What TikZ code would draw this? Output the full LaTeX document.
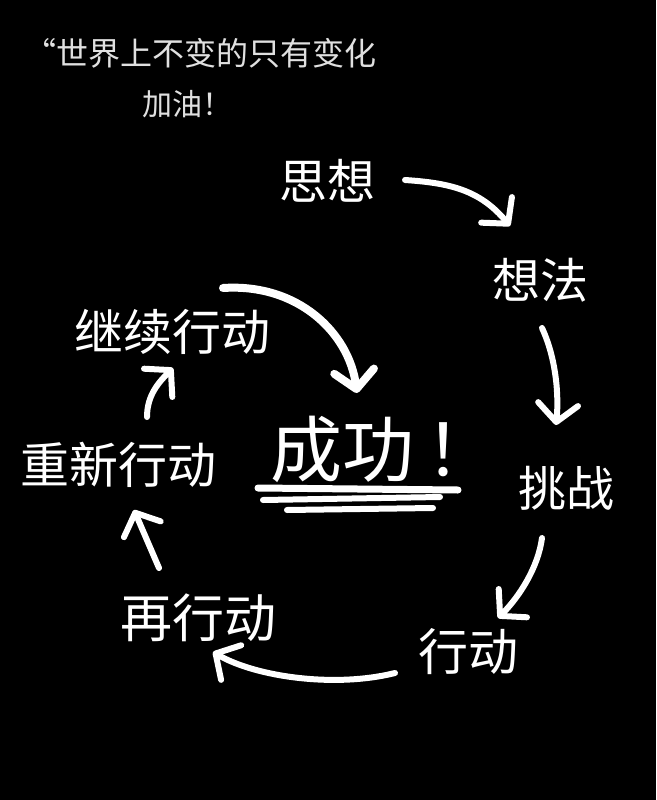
\documentclass[tikz,border=0pt]{standalone}
\usepackage{fontspec}
\newfontfamily\cjk{Noto Sans CJK SC}
\usetikzlibrary{arrows.meta}

\begin{document}
\begin{tikzpicture}[x=1pt, y=-1pt]
    % Define styles
    \tikzset{word/.style={text=white, inner sep=0pt, font=\cjk\fontsize{#1}{#1}\selectfont}}
    \tikzstyle{flow}=[draw=white, line width=6pt, line cap=round, line join=round, -{Straight Barb[length=18pt, width=40pt, round]}]
    \tikzstyle{bar}=[draw=white, line width=6pt, line cap=round]

    % Blackboard
    \fill[black] (0,0) rectangle (656,800);
    \useasboundingbox (0,0) rectangle (656,800);

    % Motto
    \node [word=32, text=white!88!black] (motto) at (200,53) {“世界上不变的只有变化};
    \node [word=30, text=white!88!black] (cheer) at (187,104) {加油！};

    % Cycle
    \node [word=48] (sixiang) at (327,181) {思想};
    \node [word=48] (xiangfa) at (540,280) {想法};
    \node [word=48] (tiaozhan) at (566,488) {挑战};
    \node [word=50] (xingdong) at (468,652) {行动};
    \node [word=52] (zaixingdong) at (198,618) {再行动};
    \node [word=49] (chongxin) at (118,465) {重新行动};
    \node [word=49] (jixu) at (172,332) {继续行动};
    \node [word=72] (chenggong) at (384,449) {成功\kern12pt！};

    % Underlines
    \draw [bar, line width=7pt] (258,488) -- (458,490);
    \draw [bar] (263,500) -- (440,497);
    \draw [bar] (287,510) -- (433,508);

    % Define connections
    \draw [flow] ([shift={(78,-1)}]sixiang.center) .. controls +(45,3) and +(-30,-36) .. ([shift={(-30,-54)}]xiangfa.center);
    \draw [flow] ([shift={(2,48)}]xiangfa.center) .. controls +(14,30) and +(3,-30) .. ([shift={(-10,-63)}]tiaozhan.center);
    \draw [flow] ([shift={(-24,50)}]tiaozhan.center) .. controls +(-4,30) and +(21,-21) .. ([shift={(30,-34)}]xingdong.center);
    \draw [flow] ([shift={(-73,21)}]xingdong.center) .. controls +(-60,15) and +(43,25) .. ([shift={(15,34)}]zaixingdong.center);
    \draw [flow] ([shift={(-39,-50)}]zaixingdong.center) -- ([shift={(16,45)}]chongxin.center);
    \draw [flow] ([shift={(29,-48)}]chongxin.center) .. controls +(0,-22) and +(-14,14) .. ([shift={(1,36)}]jixu.center);
    \draw [flow, line width=8pt] ([shift={(51,-44)}]jixu.center) .. controls +(75,-5) and +(-8,-60) .. ([shift={(-27,-56)}]chenggong.center);
\end{tikzpicture}
\end{document}
